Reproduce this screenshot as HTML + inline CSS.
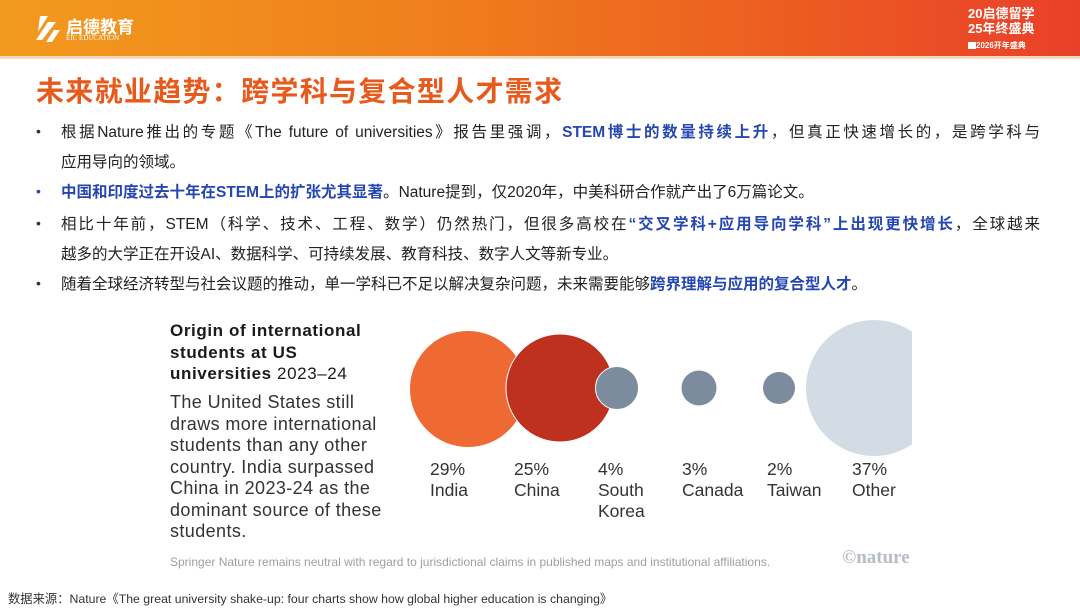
<!DOCTYPE html>
<html><head><meta charset="utf-8"><style>
*{margin:0;padding:0;box-sizing:border-box}
body{width:1080px;height:608px;background:#fff;position:relative;overflow:hidden;font-family:"Liberation Sans","Noto Sans CJK SC",sans-serif}
.hdr{position:absolute;left:0;top:0;width:1080px;height:56px;background:linear-gradient(90deg,#f29a1e 0%,#f07f1c 40%,#ec5a22 75%,#e9402a 100%)}
.hl{position:absolute;left:0;top:56px;width:1080px;height:3px;background:#f6d8bd}
.logo{position:absolute;left:30px;top:12px;color:#fff}
.title{position:absolute;left:36px;top:70px;font-size:28px;font-weight:bold;color:#e85a1c;letter-spacing:1.3px}
.ln{position:absolute;left:61px;font-size:15.5px;color:#222;white-space:nowrap;line-height:20px}
.j{width:979px;text-align:justify;text-align-last:justify}
.b{position:absolute;left:36px;font-size:14px;color:#333}
.bl{color:#2646b0;font-weight:bold}
.cl{position:absolute;font-size:17.5px;color:#333;line-height:21px}
</style></head><body>
<div class="hdr"></div><div class="hl"></div>
<div class="logo">
<svg width="32" height="32" style="position:absolute;left:0;top:0"><path d="M10 4 L18 4 L8 20 Z M18 10 L26 10 L12 28 L6 28Z M24 18 L30 18 L22 30 L16 30Z" fill="#fff"/></svg>
<div style="position:absolute;left:36px;top:1px;font-size:17px;font-weight:bold;white-space:nowrap">启德教育</div>
<div style="position:absolute;left:36px;top:22px;font-size:7px;white-space:nowrap;font-family:'Liberation Serif',serif">EIC EDUCATION</div>
</div>
<div style="position:absolute;left:968px;top:6px;color:#fff;font-size:13px;font-weight:bold;line-height:15px;white-space:nowrap">20启德留学<br>25年终盛典<br><span style="font-size:8px">▇2026开年盛典</span></div>
<div class="title">未来就业趋势：跨学科与复合型人才需求</div>

<div class="b" style="top:123px">•</div>
<div class="ln j" style="top:123px">根据Nature推出的专题《The future of universities》报告里强调，<span class="bl">STEM博士的数量持续上升</span>，但真正快速增长的，是跨学科与</div>
<div class="ln" style="top:153px">应用导向的领域。</div>
<div class="b" style="top:183px;color:#2646b0">•</div>
<div class="ln" style="top:183px"><span class="bl">中国和印度过去十年在STEM上的扩张尤其显著</span>。Nature提到，仅2020年，中美科研合作就产出了6万篇论文。</div>
<div class="b" style="top:215px">•</div>
<div class="ln j" style="top:215px">相比十年前，STEM（科学、技术、工程、数学）仍然热门，但很多高校在<span class="bl">“交叉学科+应用导向学科”上出现更快增长</span>，全球越来</div>
<div class="ln" style="top:245px">越多的大学正在开设AI、数据科学、可持续发展、教育科技、数字人文等新专业。</div>
<div class="b" style="top:275px">•</div>
<div class="ln" style="top:275px">随着全球经济转型与社会议题的推动，单一学科已不足以解决复杂问题，未来需要能够<span class="bl">跨界理解与应用的复合型人才</span>。</div>

<div style="position:absolute;left:170px;top:320px;font-size:17px;line-height:21.5px;color:#1a1a1a;white-space:nowrap;letter-spacing:0.6px"><b>Origin of international<br>students at US<br>universities</b> 2023–24</div>
<div style="position:absolute;left:170px;top:392px;font-size:18px;line-height:21.5px;color:#333;white-space:nowrap;letter-spacing:0.4px">The United States still<br>draws more international<br>students than any other<br>country. India surpassed<br>China in 2023-24 as the<br>dominant source of these<br>students.</div>

<svg style="position:absolute;left:0;top:0" width="1080" height="608">
<defs><clipPath id="c"><rect x="0" y="0" width="912" height="608"/></clipPath></defs>
<circle cx="874" cy="388" r="68" fill="#d3dce4" clip-path="url(#c)"/>
<circle cx="468" cy="389" r="58" fill="#ef6a32"/>
<circle cx="560" cy="388" r="54" fill="#bf311f" stroke="#fff" stroke-width="1"/>
<circle cx="617" cy="388" r="21.5" fill="#7c8c9e" stroke="#fff" stroke-width="1"/>
<circle cx="699" cy="388" r="17.5" fill="#7c8c9e"/>
<circle cx="779" cy="388" r="16" fill="#7c8c9e"/>
</svg>
<div class="cl" style="left:430px;top:459px">29%<br>India</div>
<div class="cl" style="left:514px;top:459px">25%<br>China</div>
<div class="cl" style="left:598px;top:459px">4%<br>South<br>Korea</div>
<div class="cl" style="left:682px;top:459px">3%<br>Canada</div>
<div class="cl" style="left:767px;top:459px">2%<br>Taiwan</div>
<div class="cl" style="left:852px;top:459px">37%<br>Other</div>
<div style="position:absolute;left:170px;top:555px;font-size:12px;color:#9aa0a6;white-space:nowrap">Springer Nature remains neutral with regard to jurisdictional claims in published maps and institutional affiliations.</div>
<div style="position:absolute;left:842px;top:547px;font-size:19px;font-weight:bold;color:#b5bcc4;font-family:'Liberation Serif',serif">©nature</div>
<div style="position:absolute;left:8px;top:589px;font-size:12.3px;color:#333;white-space:nowrap">数据来源：Nature《The great university shake-up: four charts show how global higher education is changing》</div>
</body></html>
